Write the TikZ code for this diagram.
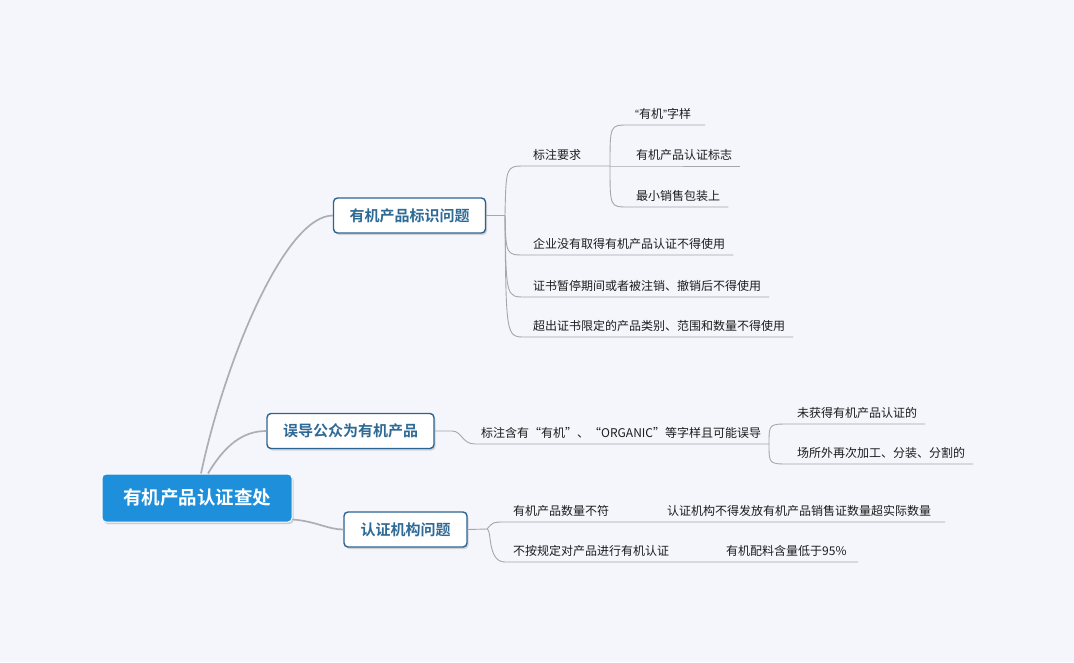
\documentclass[tikz,border=0pt]{standalone}
\usepackage{fontspec}
\setmainfont{Noto Sans CJK SC}[BoldFont={Noto Sans CJK SC Bold}]
\newfontfamily\quotefont{Liberation Sans}
\usetikzlibrary{shadows}
\definecolor{bgc}{HTML}{F4F6FC}
\definecolor{rootblue}{HTML}{1E8FDA}
\definecolor{lvborder}{HTML}{2B6492}
\definecolor{lvtext}{HTML}{2E6A96}
\definecolor{mainline}{HTML}{AEAEB2}
\definecolor{subline}{HTML}{A6A6AC}
\definecolor{leaftext}{HTML}{1C1C1C}
\begin{document}
\begin{tikzpicture}[x=1pt,y=-1pt,
  rootbox/.style={rounded corners=4pt, fill=rootblue, draw=white, line width=1pt,
    text=white, font=\fontsize{18.5}{22}\selectfont\bfseries,
    minimum width=190pt, minimum height=48pt, inner sep=0pt,
    drop shadow={shadow xshift=1.5pt, shadow yshift=-2pt, opacity=0.35}},
  lvbox/.style={rounded corners=4pt, fill=white, draw=lvborder, line width=1.4pt,
    text=lvtext, font=\fontsize{15}{18}\selectfont\bfseries,
    minimum height=35pt, inner sep=0pt,
    drop shadow={shadow xshift=1.5pt, shadow yshift=-2pt, opacity=0.3}},
  leaf/.style={anchor=south west, inner xsep=8pt, inner ysep=5pt,
    font=\fontsize{12}{14}\selectfont, text=leaftext},
  mainconn/.style={draw=mainline, line width=1.7pt},
  subconn/.style={draw=subline, line width=0.9pt}
]
\fill[bgc] (0,0) rectangle (1074,662);
\useasboundingbox (0,0) rectangle (1074,662);

% main nodes
\node[rootbox] (root) at (197,498) {有机产品认证查处};
\node[lvbox, minimum width=152pt] (n1) at (409.5,215.5) {有机产品标识问题};
\node[lvbox, minimum width=167pt] (n2) at (350.5,431) {误导公众为有机产品};
\node[lvbox, minimum width=123pt] (n3) at (405.5,529.5) {认证机构问题};

% main connectors
\draw[mainconn] ([xshift=4pt]root.north) .. controls (225,360) and (285,215.5) .. (n1.west);
\draw[mainconn] ([xshift=11pt]root.north) .. controls (225,445) and (243,431) .. (n2.west);
\draw[mainconn] ([yshift=3pt]root.south east) .. controls (315,521) and (328,529.5) .. (n3.west);

% branch 1 leaves
\node[leaf] (a1) at (525,166) {标注要求};
\node[leaf] (a2) at (525,255) {企业没有取得有机产品认证不得使用};
\node[leaf] (a3) at (525,297) {证书暂停期间或者被注销、撤销后不得使用};
\node[leaf] (a4) at (525,337) {超出证书限定的产品类别、范围和数量不得使用};
\node[leaf, inner xsep=7pt] (q1) at (628,125) {{\quotefont “}有机{\quotefont ”}字样};
\node[leaf] (q2) at (628,166) {有机产品认证标志};
\node[leaf] (q3) at (628,207) {最小销售包装上};
\coordinate (b1) at (505,215.5);
\coordinate (b1q) at (610,166);
\coordinate (q1e) at (705,125);

\draw[subconn] (n1.east) -- (b1);
\draw[subconn] (b1) .. controls (506,166) .. (a1.south west) -- (b1q);
\draw[subconn] (b1) .. controls (506,255) .. (a2.south west) -- (a2.south east);
\draw[subconn] (b1) .. controls (506,297) .. (a3.south west) -- (a3.south east);
\draw[subconn] (b1) .. controls (506,337) .. (a4.south west) -- (a4.south east);
\draw[subconn] (b1q) .. controls (610,125) .. (q1.south west) -- (q1e);
\draw[subconn] (b1q) -- (q2.south west) -- (q2.south east);
\draw[subconn] (b1q) .. controls (610,207) .. (q3.south west) -- (q3.south east);

% branch 2 leaves
\node[leaf, inner xsep=6pt] (m1) at (475,444) {标注含有“有机”、“ORGANIC”等字样且可能误导};
\node[leaf] (p1) at (789,424) {未获得有机产品认证的};
\node[leaf] (p2) at (789,464) {场所外再次加工、分装、分割的};
\coordinate (b2) at (452,431);
\coordinate (b2p) at (769,444);
\draw[subconn] (n2.east) -- (b2) .. controls (462,431) and (462,444) .. (m1.south west) -- (b2p);
\draw[subconn] (b2p) .. controls (769,424) .. (p1.south west) -- (p1.south east);
\draw[subconn] (b2p) .. controls (769,464) .. (p2.south west) -- (p2.south east);

% branch 3 leaves
\node[leaf] (c1) at (505,522) {有机产品数量不符};
\node[leaf] (c2) at (505,562) {不按规定对产品进行有机认证};
\node[leaf] (d1) at (659,522) {认证机构不得发放有机产品销售证数量超实际数量};
\node[leaf] (d2) at (718,562) {有机配料含量低于95\%};
\coordinate (b3) at (487,529);
\coordinate (d1e) at (945,522);
\coordinate (d2e) at (858,562);
\draw[subconn] (n3.east) -- (b3);
\draw[subconn] (b3) .. controls (493,522) .. (c1.south west) -- (d1.south west) -- (d1e);
\draw[subconn] (b3) .. controls (492,529) and (487,562) .. (c2.south west) -- (d2.south west) -- (d2e);
\end{tikzpicture}
\end{document}
